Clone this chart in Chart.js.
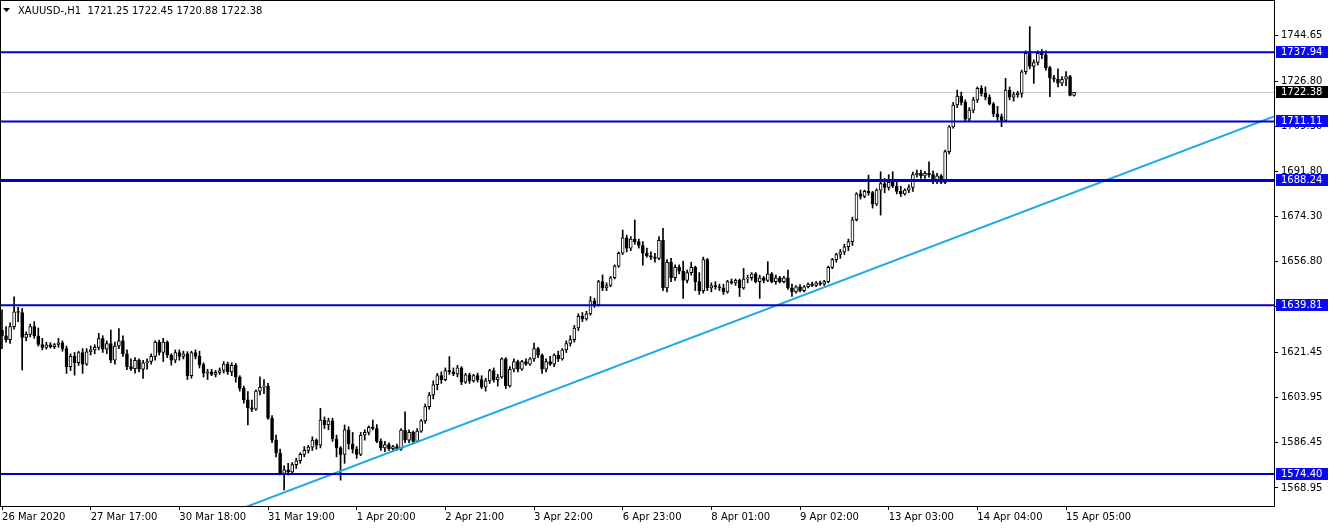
<!DOCTYPE html>
<html>
<head>
<meta charset="utf-8">
<script src="https://cdn.jsdelivr.net/npm/chart.js@4.4.1/dist/chart.umd.min.js"></script>
<style>
  html, body { margin: 0; padding: 0; background: #ffffff; }
  #chart { display: block; }
</style>
</head>
<body>
<canvas id="chart" width="1332" height="528"></canvas>
<script>
// XAUUSD H1 candles, one entry per bar

const opens = [
    1630.2, 1628.0, 1626.5, 1631.5, 1637.3, 1637.0, 1627.3, 1628.5, 1631.5, 1628.0,
    1624.6, 1623.5, 1624.5, 1623.8, 1624.6, 1625.2, 1623.0, 1616.0, 1620.0, 1617.5,
    1621.5, 1617.0, 1621.8, 1622.5, 1623.5, 1626.9, 1622.8, 1625.0, 1618.5, 1624.0,
    1626.0, 1621.0, 1616.0, 1615.2, 1618.5, 1615.0, 1617.5, 1618.0, 1620.0, 1625.5,
    1621.5, 1625.5, 1620.5, 1618.5, 1621.5, 1620.0, 1621.0, 1612.5, 1621.5, 1620.0,
    1616.8, 1613.5, 1614.0, 1613.0, 1613.8, 1614.5, 1617.0, 1614.0, 1616.5, 1612.0,
    1607.6, 1603.1, 1600.0, 1599.5, 1606.5, 1608.0, 1608.5, 1596.0, 1587.5, 1582.5,
    1574.6, 1576.0, 1575.2, 1578.0, 1579.5, 1582.0, 1583.5, 1584.8, 1587.5, 1585.5,
    1595.3, 1593.5, 1595.0, 1588.0, 1584.5, 1582.0, 1591.5, 1586.0, 1584.0, 1582.0,
    1589.5, 1590.5, 1592.5, 1592.0, 1587.0, 1584.5, 1585.8, 1584.2, 1585.0, 1584.0,
    1591.4, 1587.5, 1590.5, 1587.0, 1591.0, 1595.0, 1600.5, 1605.0, 1609.0, 1612.5,
    1611.0, 1614.5, 1614.0, 1613.2, 1615.5, 1610.0, 1612.8, 1610.5, 1612.5, 1611.0,
    1608.0, 1610.5, 1614.5, 1611.0, 1612.0, 1619.0, 1608.5, 1615.0, 1618.0, 1615.0,
    1618.0, 1617.0, 1619.0, 1623.0, 1620.5, 1615.0, 1618.0, 1617.0, 1620.5, 1619.0,
    1622.5, 1625.0, 1626.5, 1631.0, 1635.5, 1634.5, 1636.5, 1641.5, 1640.0, 1649.0,
    1646.5, 1647.5, 1650.5, 1655.0, 1660.0, 1666.0, 1662.0, 1665.5, 1664.5, 1663.0,
    1660.0, 1659.0, 1658.5, 1658.0, 1665.0, 1646.5, 1656.5, 1650.5, 1654.5, 1653.0,
    1649.5, 1652.5, 1654.5, 1649.0, 1645.5, 1657.5, 1646.5, 1647.5, 1647.0, 1646.5,
    1645.0, 1649.0, 1648.5, 1649.5, 1646.5, 1650.0, 1650.5, 1652.0, 1649.0, 1650.5,
    1649.5, 1652.0, 1649.0, 1650.5, 1649.0, 1650.5, 1646.5, 1645.0, 1647.0, 1645.5,
    1647.0, 1648.0, 1647.5, 1648.5, 1648.0, 1649.0, 1654.5, 1657.5, 1659.5, 1660.5,
    1662.5, 1664.5, 1673.0, 1683.0, 1682.0, 1684.0, 1683.5, 1679.0, 1684.5, 1687.0,
    1685.5, 1687.5, 1686.0, 1684.0, 1683.0, 1684.5, 1685.5, 1690.5, 1691.0, 1690.0,
    1691.0, 1690.5, 1688.0, 1690.0, 1687.5, 1699.4, 1709.0, 1717.5, 1721.0, 1718.5,
    1712.0, 1715.5, 1719.5, 1724.0, 1722.0, 1720.5, 1718.0, 1714.0, 1713.0, 1711.5,
    1723.3, 1720.5, 1721.5, 1722.0, 1730.4, 1737.5, 1732.5, 1734.0, 1737.5, 1737.0,
    1732.0, 1728.0, 1727.5, 1726.0, 1727.5, 1728.5, 1721.25
];

const highs = [
    1638.0, 1631.5, 1633.0, 1643.1, 1639.0, 1638.5, 1629.5, 1632.5, 1633.5, 1631.0,
    1627.0, 1625.5, 1625.3, 1625.0, 1627.0, 1626.0, 1624.0, 1621.0, 1621.5, 1622.0,
    1623.0, 1623.0, 1624.0, 1624.5, 1628.9, 1628.0, 1626.0, 1630.2, 1625.5, 1630.8,
    1628.0, 1622.5, 1619.0, 1619.5, 1619.0, 1618.5, 1619.0, 1621.0, 1626.0, 1626.3,
    1627.0, 1626.0, 1621.0, 1622.5, 1622.5, 1622.0, 1621.8, 1622.0, 1622.5, 1622.0,
    1617.5, 1615.0, 1615.0, 1614.5, 1615.5, 1618.0, 1617.8, 1617.5, 1617.3, 1612.5,
    1608.5, 1606.3, 1603.0, 1607.0, 1612.1, 1611.0, 1609.5, 1597.0, 1589.5, 1584.0,
    1577.5, 1578.5, 1578.8, 1580.5, 1582.6, 1585.0, 1585.5, 1588.8, 1588.0, 1599.8,
    1596.5, 1596.0, 1596.0, 1589.5, 1585.0, 1593.4, 1592.7, 1590.5, 1585.0, 1590.5,
    1591.5, 1593.0, 1595.3, 1593.5, 1588.0, 1587.0, 1586.5, 1585.5, 1586.0, 1592.0,
    1598.5, 1591.5, 1591.0, 1592.0, 1595.5, 1601.5, 1606.0, 1610.5, 1613.4, 1614.0,
    1615.5, 1619.9, 1615.5, 1616.5, 1616.0, 1613.4, 1613.5, 1613.0, 1613.5, 1612.5,
    1611.5, 1615.0, 1615.5, 1613.0, 1619.5, 1619.5, 1616.0, 1619.0, 1618.6, 1618.5,
    1619.0, 1619.5, 1625.1, 1623.5, 1621.0, 1619.0, 1620.0, 1621.0, 1622.0, 1623.0,
    1626.0, 1628.0, 1632.0, 1636.5, 1637.0, 1637.5, 1643.2, 1642.5, 1649.5, 1651.6,
    1648.5, 1651.0, 1655.5, 1660.5, 1669.0, 1667.0, 1666.5, 1672.9, 1665.5, 1664.5,
    1662.0, 1660.5, 1660.0, 1666.5, 1669.7, 1657.5, 1658.0, 1655.5, 1655.5, 1657.0,
    1653.5, 1656.5, 1655.0, 1652.5, 1658.5, 1658.0, 1648.5, 1649.0, 1648.0, 1648.0,
    1649.5, 1650.0, 1650.0, 1650.0, 1654.1, 1651.5, 1652.5, 1652.5, 1651.5, 1651.0,
    1656.7, 1652.5, 1651.5, 1651.0, 1651.0, 1653.5, 1648.0, 1647.5, 1647.8, 1647.5,
    1648.5, 1648.8, 1649.0, 1649.2, 1649.5, 1655.0, 1658.0, 1660.0, 1661.5, 1663.5,
    1665.5, 1674.0, 1683.5, 1684.5, 1684.5, 1690.3, 1684.0, 1685.0, 1691.6, 1689.0,
    1690.5, 1691.6, 1687.5, 1686.0, 1685.0, 1686.5, 1691.5, 1692.3, 1692.3, 1691.8,
    1695.5, 1692.0, 1691.0, 1690.5, 1700.0, 1709.5, 1718.5, 1723.3, 1722.5, 1719.5,
    1716.5, 1720.5, 1724.5, 1725.0, 1724.5, 1721.5, 1718.5, 1717.0, 1714.0, 1727.8,
    1724.5, 1722.5, 1722.8, 1731.0, 1738.5, 1747.9, 1735.0, 1738.5, 1739.0, 1738.5,
    1732.5, 1729.0, 1731.5, 1728.5, 1730.5, 1729.0, 1722.45
];

const lows = [
    1623.0, 1625.5, 1625.0, 1630.5, 1633.5, 1614.7, 1626.0, 1627.5, 1627.0, 1624.0,
    1622.5, 1622.8, 1623.2, 1623.0, 1623.5, 1622.0, 1613.4, 1614.5, 1612.7, 1616.5,
    1613.4, 1616.5, 1620.5, 1621.0, 1622.5, 1621.5, 1621.0, 1617.5, 1617.0, 1623.0,
    1620.0, 1614.8, 1614.5, 1613.5, 1614.0, 1611.4, 1615.0, 1617.0, 1618.5, 1620.5,
    1618.0, 1619.5, 1616.6, 1617.5, 1618.5, 1619.0, 1611.0, 1611.5, 1619.0, 1615.5,
    1612.0, 1611.0, 1612.5, 1612.0, 1613.0, 1613.5, 1613.0, 1612.5, 1610.0, 1606.5,
    1601.8, 1593.4, 1598.5, 1599.0, 1605.0, 1605.5, 1595.5, 1586.5, 1581.0, 1574.0,
    1568.2, 1574.0, 1574.5, 1576.5, 1578.5, 1581.0, 1582.5, 1583.5, 1584.0, 1584.5,
    1592.0, 1591.5, 1587.0, 1581.0, 1572.0, 1578.5, 1584.0, 1582.5, 1580.4, 1581.5,
    1587.5, 1589.5, 1591.5, 1586.5, 1583.5, 1583.0, 1583.5, 1583.0, 1583.5, 1583.5,
    1586.5, 1586.5, 1586.0, 1586.5, 1590.5, 1594.0, 1599.5, 1603.5, 1607.0, 1609.5,
    1610.5, 1613.0, 1612.5, 1612.0, 1609.0, 1609.5, 1609.5, 1610.0, 1610.0, 1607.5,
    1606.5, 1609.5, 1610.0, 1608.5, 1611.5, 1607.5, 1608.0, 1614.0, 1614.0, 1614.5,
    1616.5, 1616.5, 1618.0, 1619.5, 1613.4, 1614.0, 1616.5, 1616.0, 1618.0, 1618.5,
    1621.5, 1624.0, 1625.5, 1630.0, 1633.5, 1634.0, 1636.0, 1639.0, 1639.5, 1645.5,
    1645.5, 1647.0, 1650.0, 1654.5, 1659.5, 1660.5, 1661.0, 1663.5, 1662.0, 1655.4,
    1658.5, 1657.5, 1656.5, 1657.5, 1645.5, 1645.0, 1649.0, 1649.5, 1652.0, 1642.5,
    1648.5, 1651.5, 1645.5, 1644.0, 1644.5, 1645.5, 1645.0, 1646.0, 1645.5, 1644.0,
    1644.5, 1648.0, 1647.5, 1643.2, 1646.0, 1648.5, 1649.5, 1648.5, 1642.5, 1648.5,
    1649.0, 1648.5, 1648.0, 1648.5, 1648.5, 1646.0, 1643.2, 1644.5, 1645.0, 1645.0,
    1646.5, 1647.0, 1647.0, 1647.5, 1647.5, 1648.5, 1654.0, 1656.5, 1658.0, 1659.5,
    1661.0, 1663.0, 1672.5, 1681.0, 1681.5, 1682.5, 1677.5, 1678.5, 1674.8, 1683.5,
    1684.5, 1685.5, 1683.0, 1682.0, 1682.5, 1683.5, 1684.0, 1689.5, 1689.0, 1689.0,
    1689.5, 1687.0, 1687.0, 1687.0, 1687.0, 1698.5, 1708.5, 1716.5, 1717.5, 1711.0,
    1711.0, 1714.5, 1718.5, 1721.0, 1719.5, 1717.5, 1713.0, 1711.5, 1709.1, 1711.0,
    1719.5, 1719.0, 1720.5, 1720.5, 1729.5, 1731.5, 1725.9, 1733.0, 1735.5, 1731.0,
    1720.7, 1726.5, 1724.5, 1725.0, 1725.0, 1721.0, 1720.88
];

const closes = [
    1628.0, 1626.5, 1631.5, 1637.3, 1637.0, 1627.3, 1628.5, 1631.5, 1628.0, 1624.6,
    1623.5, 1624.5, 1623.8, 1624.6, 1625.2, 1623.0, 1616.0, 1620.0, 1617.5, 1621.5,
    1617.0, 1621.8, 1622.5, 1623.5, 1626.9, 1622.8, 1625.0, 1618.5, 1624.0, 1626.0,
    1621.0, 1616.0, 1615.2, 1618.5, 1615.0, 1617.5, 1618.0, 1620.0, 1625.5, 1621.5,
    1625.5, 1620.5, 1618.5, 1621.5, 1620.0, 1621.0, 1612.5, 1621.5, 1620.0, 1616.8,
    1613.5, 1614.0, 1613.0, 1613.8, 1614.5, 1617.0, 1614.0, 1616.5, 1612.0, 1607.6,
    1603.1, 1600.0, 1599.5, 1606.5, 1608.0, 1608.5, 1596.0, 1587.5, 1582.5, 1574.6,
    1576.0, 1575.2, 1578.0, 1579.5, 1582.0, 1583.5, 1584.8, 1587.5, 1585.5, 1595.3,
    1593.5, 1595.0, 1588.0, 1584.5, 1582.0, 1591.5, 1586.0, 1584.0, 1582.0, 1589.5,
    1590.5, 1592.5, 1592.0, 1587.0, 1584.5, 1585.8, 1584.2, 1585.0, 1584.0, 1591.4,
    1587.5, 1590.5, 1587.0, 1591.0, 1595.0, 1600.5, 1605.0, 1609.0, 1612.5, 1611.0,
    1614.5, 1614.0, 1613.2, 1615.5, 1610.0, 1612.8, 1610.5, 1612.5, 1611.0, 1608.0,
    1610.5, 1614.5, 1611.0, 1612.0, 1619.0, 1608.5, 1615.0, 1618.0, 1615.0, 1618.0,
    1617.0, 1619.0, 1623.0, 1620.5, 1615.0, 1618.0, 1617.0, 1620.5, 1619.0, 1622.5,
    1625.0, 1626.5, 1631.0, 1635.5, 1634.5, 1636.5, 1641.5, 1640.0, 1649.0, 1646.5,
    1647.5, 1650.5, 1655.0, 1660.0, 1666.0, 1662.0, 1665.5, 1664.5, 1663.0, 1660.0,
    1659.0, 1658.5, 1658.0, 1665.0, 1646.5, 1656.5, 1650.5, 1654.5, 1653.0, 1649.5,
    1652.5, 1654.5, 1649.0, 1645.5, 1657.5, 1646.5, 1647.5, 1647.0, 1646.5, 1645.0,
    1649.0, 1648.5, 1649.5, 1646.5, 1650.0, 1650.5, 1652.0, 1649.0, 1650.5, 1649.5,
    1652.0, 1649.0, 1650.5, 1649.0, 1650.5, 1646.5, 1645.0, 1647.0, 1645.5, 1647.0,
    1648.0, 1647.5, 1648.5, 1648.0, 1649.0, 1654.5, 1657.5, 1659.5, 1660.5, 1662.5,
    1664.5, 1673.0, 1683.0, 1682.0, 1684.0, 1683.5, 1679.0, 1684.5, 1687.0, 1685.5,
    1687.5, 1686.0, 1684.0, 1683.0, 1684.5, 1685.5, 1690.5, 1691.0, 1690.0, 1691.0,
    1690.5, 1688.0, 1690.0, 1687.5, 1699.4, 1709.0, 1717.5, 1721.0, 1718.5, 1712.0,
    1715.5, 1719.5, 1724.0, 1722.0, 1720.5, 1718.0, 1714.0, 1713.0, 1711.5, 1723.3,
    1720.5, 1721.5, 1722.0, 1730.4, 1737.5, 1732.5, 1734.0, 1737.5, 1737.0, 1732.0,
    1728.0, 1727.5, 1726.0, 1727.5, 1728.5, 1721.25, 1722.38
];

// time axis labels and the bar they sit on
const timeLabels = [
    "26 Mar 2020", "27 Mar 17:00", "30 Mar 18:00", "31 Mar 19:00", "1 Apr 20:00",
    "2 Apr 21:00", "3 Apr 22:00", "6 Apr 23:00", "8 Apr 01:00", "9 Apr 02:00",
    "13 Apr 03:00", "14 Apr 04:00", "15 Apr 05:00"
];
const timeLabelBars = [0, 22, 44, 66, 88, 110, 132, 154, 176, 198, 220, 242, 264];

const priceTicks = [1744.65, 1726.80, 1709.30, 1691.80, 1674.30, 1656.80, 1639.30, 1621.45, 1603.95, 1586.45, 1568.95];

// horizontal levels, trend line, bid
const levels = [1737.94, 1711.11, 1688.24, 1639.81, 1574.40];
const levelWidths = [2, 2, 3, 2, 2];
const lastPrice = 1722.38;
const trendBars = [55, 315.6];
const trendPrices = [1558.3, 1713.1];

const header = "XAUUSD-,H1  1721.25 1722.45 1720.88 1722.38";

const FONT = "DejaVu Sans";
const LEVEL_COLOR = "#0000cd";
const LABEL_BLUE = "#0a0af0";

const wicks = lows.map((l, i) => ({x: i, y: [l, highs[i]]}));
const bodies = opens.map((o, i) => ({x: i, y: [o, closes[i]]}));
const bodyFill = opens.map((o, i) => closes[i] >= o ? "#ffffff" : "#000000");

const datasets = [];

levels.forEach((v, k) => {
    datasets.push({
        type: "line",
        data: [{x: -1, y: v}, {x: 330, y: v}],
        borderColor: LEVEL_COLOR,
        borderWidth: levelWidths[k],
        pointRadius: 0,
        order: 0
    });
});

datasets.push({
    type: "line",
    data: [{x: trendBars[0], y: trendPrices[0]}, {x: trendBars[1], y: trendPrices[1]}],
    borderColor: "#1ea8e6",
    borderWidth: 2,
    pointRadius: 0,
    order: 1
});

datasets.push({
    type: "bar",
    data: bodies,
    backgroundColor: bodyFill,
    borderColor: "#000000",
    borderWidth: 1,
    borderSkipped: false,
    barThickness: 3,
    minBarLength: 1,
    grouped: false,
    order: 2
});

datasets.push({
    type: "bar",
    data: wicks,
    backgroundColor: "#000000",
    barThickness: 1,
    grouped: false,
    order: 3
});

datasets.push({
    type: "line",
    data: [{x: -1, y: lastPrice}, {x: 330, y: lastPrice}],
    borderColor: "#c8c8c8",
    borderWidth: 1,
    pointRadius: 0,
    order: 4
});

// frame, price boxes and header
const mtDecor = {
    id: "mtDecor",
    afterDraw(chart) {
        const ctx = chart.ctx;
        const area = chart.chartArea;
        const y = chart.scales.y;
        ctx.save();

        ctx.strokeStyle = "#000000";
        ctx.lineWidth = 1;
        ctx.strokeRect(area.left + 0.5, area.top + 0.5, area.right - area.left, area.bottom - area.top);

        ctx.font = "10px '" + FONT + "'";
        ctx.textBaseline = "middle";
        ctx.textAlign = "left";

        const boxes = levels.map(v => [v, LABEL_BLUE]).concat([[lastPrice, "#000000"]]);
        boxes.forEach(([v, col]) => {
            const py = Math.round(y.getPixelForValue(v));
            ctx.fillStyle = col;
            ctx.fillRect(area.right + 2, py - 6, 52, 12);
            ctx.fillStyle = "#ffffff";
            ctx.fillText(v.toFixed(2), area.right + 7, py);
        });

        ctx.fillStyle = "#000000";
        ctx.beginPath();
        ctx.moveTo(3, 8);
        ctx.lineTo(10, 8);
        ctx.lineTo(6.5, 12);
        ctx.closePath();
        ctx.fill();
        ctx.fillText(header, 18, 11);

        ctx.restore();
    }
};

const config = {
    type: "bar",
    data: { datasets: datasets },
    options: {
        responsive: false,
        animation: false,
        devicePixelRatio: 1,
        layout: { padding: 0 },
        plugins: { legend: { display: false }, tooltip: { enabled: false } },
        scales: {
            x: {
                type: "linear",
                offset: false,
                min: -0.5,
                max: 315.6,
                afterFit: (s) => {
                    s.height = 22;
                    s.paddingLeft = 0;
                    s.paddingRight = 0;
                },
                afterBuildTicks: (s) => { s.ticks = timeLabelBars.map(v => ({value: v})); },
                ticks: {
                    autoSkip: false,
                    maxRotation: 0,
                    minRotation: 0,
                    align: "start",
                    padding: 1,
                    color: "#000000",
                    font: { family: FONT, size: 10 },
                    callback: (v, i) => timeLabels[i]
                },
                grid: { drawOnChartArea: false, offset: false, tickLength: 4, color: "#000000" },
                border: { display: false }
            },
            y: {
                type: "linear",
                position: "right",
                min: 1561.95,
                max: 1758.23,
                afterFit: (s) => {
                    s.width = 58;
                    s.paddingTop = 0;
                    s.paddingBottom = 0;
                },
                afterBuildTicks: (s) => { s.ticks = priceTicks.map(v => ({value: v})); },
                ticks: {
                    padding: 3,
                    color: "#000000",
                    font: { family: FONT, size: 10 },
                    callback: (v) => Number(v).toFixed(2)
                },
                grid: { drawOnChartArea: false, tickLength: 4, color: "#000000" },
                border: { display: false }
            }
        }
    },
    plugins: [mtDecor]
};

const chart = new Chart(document.getElementById("chart"), config);
</script>
</body>
</html>
